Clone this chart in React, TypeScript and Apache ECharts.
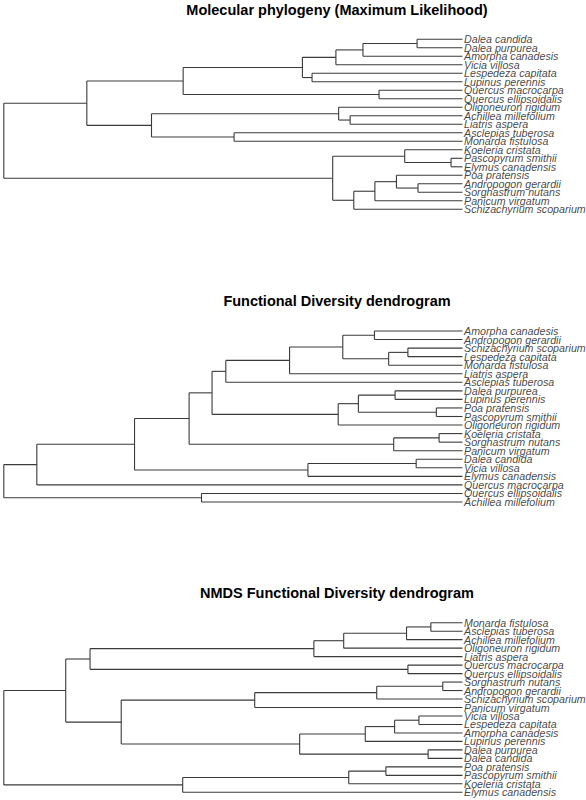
import React, { useEffect, useRef } from "react";
import * as echarts from "echarts";

type TreeNode = string | [number, TreeNode, TreeNode];

const titles = [
  "Molecular phylogeny (Maximum Likelihood)",
  "Functional Diversity dendrogram",
  "NMDS Functional Diversity dendrogram",
];

// node depth from root (root = 0, tips = 1)
const molecularTree: TreeNode = [0,
  [0.181,
    [0.391,
      [0.651,
        [0.724,
          [0.783, [0.901, "Dalea candida", "Dalea purpurea"], "Amorpha canadesis"],
          "Vicia villosa"],
        [0.672, "Lespedeza capitata", "Lupinus perennis"]],
      [0.818, "Quercus macrocarpa", "Quercus ellipsoidalis"]],
    [0.322,
      [0.730, "Oligoneuron rigidum", [0.755, "Achillea millefolium", "Liatris aspera"]],
      [0.502, "Asclepias tuberosa", "Monarda fistulosa"]]],
  [0.717,
    [0.874, "Koeleria cristata", [0.975, "Pascopyrum smithii", "Elymus canadensis"]],
    [0.763,
      [0.809,
        [0.856, "Poa pratensis", [0.903, "Andropogon gerardii", "Sorghastrum nutans"]],
        "Panicum virgatum"],
      "Schizachyrium scoparium"]]];

const functionalTree: TreeNode = [0,
  [0.072,
    [0.285,
      [0.404,
        [0.454,
          [0.484,
            [0.623,
              [0.739,
                [0.808, "Amorpha canadesis", "Andropogon gerardii"],
                [0.839, [0.881, "Schizachyrium scoparium", "Lespedeza capitata"], "Monarda fistulosa"]],
              "Liatris aspera"],
            "Asclepias tuberosa"],
          [0.729,
            [0.773,
              [0.853, "Dalea purpurea", "Lupinus perennis"],
              [0.943, "Poa pratensis", "Pascopyrum smithii"]],
            "Oligoneuron rigidum"]],
        [0.850, [0.949, "Koeleria cristata", "Sorghastrum nutans"], "Panicum virgatum"]],
      [0.663, [0.899, "Dalea candida", "Vicia villosa"], "Elymus canadensis"]],
    "Quercus macrocarpa"],
  [0.431, "Quercus ellipsoidalis", "Achillea millefolium"]];

const nmdsTree: TreeNode = [0,
  [0.135,
    [0.188,
      [0.676,
        [0.741,
          [0.878, [0.931, "Monarda fistulosa", "Asclepias tuberosa"], "Achillea millefolium"],
          "Oligoneuron rigidum"],
        "Liatris aspera"],
      [0.881, "Quercus macrocarpa", "Quercus ellipsoidalis"]],
    [0.256,
      [0.547,
        [0.813, [0.957, "Sorghastrum nutans", "Andropogon gerardii"], "Schizachyrium scoparium"],
        "Panicum virgatum"],
      [0.645,
        [0.788, [0.852, [0.905, "Vicia villosa", "Lespedeza capitata"], "Amorpha canadesis"], "Lupinus perennis"],
        [0.925, "Dalea purpurea", "Dalea candida"]]]],
  [0.390,
    [0.752, [0.833, "Poa pratensis", "Pascopyrum smithii"], "Koeleria cristata"],
    "Elymus canadensis"]];

const trees = [molecularTree, functionalTree, nmdsTree];

function layoutTree(tree: TreeNode) {
  const segments: number[][] = [];
  const leaves: { value: number[]; name: string }[] = [];
  let idx = 0;
  const walk = (node: TreeNode, parentX: number | null): { x: number; y: number } => {
    if (typeof node === "string") {
      const y = idx++;
      leaves.push({ value: [1, y], name: node });
      if (parentX !== null) segments.push([parentX, y, 1, y]);
      return { x: 1, y };
    }
    const [h, a, b] = node;
    const ca = walk(a, h);
    const cb = walk(b, h);
    const y = (ca.y + cb.y) / 2;
    segments.push([h, ca.y, h, cb.y]);
    if (parentX !== null) segments.push([parentX, y, h, y]);
    return { x: h, y };
  };
  walk(tree, null);
  return { segments, leaves, count: idx };
}

const panels = [
  { top: 39.3, height: 170, titleTop: 2 },
  { top: 331, height: 171, titleTop: 293 },
  { top: 622.7, height: 169.6, titleTop: 585 },
];

export default function App() {
  const ref = useRef<HTMLDivElement>(null);
  useEffect(() => {
    if (!ref.current) return;
    const chart = echarts.init(ref.current, undefined, { renderer: "svg" });
    const laid = trees.map(layoutTree);
    const series: any[] = [];
    laid.forEach((t, i) => {
      series.push({
        type: "custom",
        xAxisIndex: i,
        yAxisIndex: i,
        clip: false,
        silent: true,
        encode: { x: [0, 2], y: [1, 3] },
        data: t.segments,
        renderItem: (params: any, api: any) => {
          const p1 = api.coord([api.value(0), api.value(1)]);
          const p2 = api.coord([api.value(2), api.value(3)]);
          return {
            type: "line",
            shape: { x1: p1[0], y1: p1[1], x2: p2[0], y2: p2[1] },
            style: { stroke: "#3a3a3a", lineWidth: 1.1 },
          };
        },
      });
      series.push({
        type: "scatter",
        xAxisIndex: i,
        yAxisIndex: i,
        silent: true,
        symbol: "circle",
        symbolSize: 1,
        itemStyle: { color: "rgba(0,0,0,0)" },
        data: t.leaves,
        label: {
          show: true,
          position: "right",
          distance: 1,
          formatter: "{b}",
          fontFamily: "Liberation Sans",
          fontStyle: "italic",
          fontSize: 10.7,
          color: "#111",
        },
        labelLayout: { hideOverlap: false },
      });
    });
    chart.setOption({
      animation: false,
      backgroundColor: "#fff",
      title: titles.map((t, i) => ({
        text: t,
        left: 337,
        top: panels[i].titleTop,
        textAlign: "center",
        padding: 0,
        textStyle: { fontFamily: "Liberation Sans", fontWeight: "bold", fontSize: 14.5, color: "#000" },
      })),
      grid: panels.map((p) => ({ left: 3.8, width: 458.7, top: p.top, height: p.height })),
      xAxis: panels.map((_, i) => ({ type: "value", gridIndex: i, min: 0, max: 1, show: false })),
      yAxis: panels.map((_, i) => ({
        type: "value",
        gridIndex: i,
        min: 0,
        max: laid[i].count - 1,
        inverse: true,
        show: false,
      })),
      series,
    });
    return () => chart.dispose();
  }, []);
  return (
    <div
      ref={ref}
      style={{ position: "fixed", left: 0, top: 0, width: 586, height: 800, background: "#fff" }}
    />
  );
}
